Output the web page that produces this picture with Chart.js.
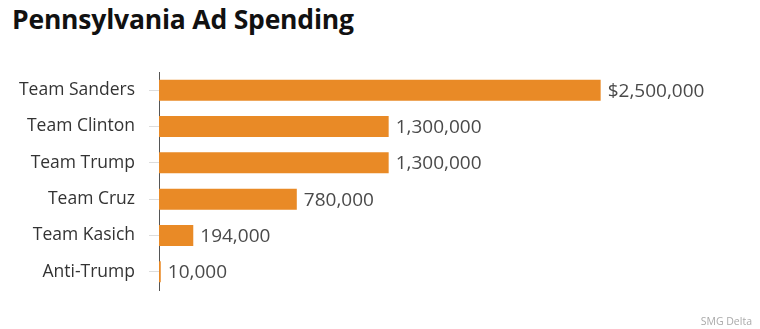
<!DOCTYPE html>
<html>
<head>
<meta charset="utf-8">
<script src="https://cdn.jsdelivr.net/npm/chart.js@4.4.1/dist/chart.umd.min.js"></script>
<style>
  html, body { margin: 0; padding: 0; background: #fff; }
  #wrap { position: relative; width: 760px; height: 329px; overflow: hidden; }
  #title {
    position: absolute; left: 12px; top: 1px; margin: 0;
    font: 700 26.5px "Open Sans", sans-serif; color: #111; letter-spacing: -0.2px;
  }
  #credit {
    position: absolute; right: 8px; bottom: 1px;
    font: 400 10.5px "Open Sans", sans-serif; color: #aaa;
  }
  #spendChart { position: absolute; left: 0; top: 0; }
</style>
</head>
<body>
<div id="wrap">
  <h1 id="title">Pennsylvania Ad Spending</h1>
  <canvas id="spendChart" width="760" height="329"></canvas>
  <div id="credit">SMG Delta</div>
</div>
<script>
const teams = ['Team Sanders', 'Team Clinton', 'Team Trump', 'Team Cruz', 'Team Kasich', 'Anti-Trump'];
const spending = [2500000, 1300000, 1300000, 780000, 194000, 10000];
const valueLabels = ['$2,500,000', '1,300,000', '1,300,000', '780,000', '194,000', '10,000'];

// writes the amount just past the end of each bar
const barValues = {
  id: 'barValues',
  afterDatasetsDraw(chart) {
    const ctx = chart.ctx;
    const meta = chart.getDatasetMeta(0);
    ctx.save();
    ctx.font = '400 19px "Open Sans", sans-serif';
    ctx.fillStyle = '#4a4a4a';
    ctx.textAlign = 'left';
    ctx.textBaseline = 'middle';
    meta.data.forEach((bar, i) => {
      ctx.fillText(valueLabels[i], bar.x + 7, bar.y + 1);
    });
    ctx.restore();
  }
};

const ctx = document.getElementById('spendChart').getContext('2d');
new Chart(ctx, {
  type: 'bar',
  data: {
    labels: teams,
    datasets: [{
      data: spending,
      backgroundColor: '#E98A26',
      borderWidth: 0,
      barPercentage: 0.58,
      categoryPercentage: 1
    }]
  },
  options: {
    indexAxis: 'y',
    responsive: false,
    animation: false,
    layout: { padding: { top: 72, bottom: 39, left: 0, right: 18 } },
    plugins: {
      legend: { display: false },
      tooltip: { enabled: false }
    },
    scales: {
      x: {
        display: false,
        min: 0,
        max: 3300000
      },
      y: {
        afterFit(scale) { scale.width = 159; },
        border: { color: '#555', width: 1 },
        grid: {
          offset: false,
          drawOnChartArea: false,
          tickLength: 10,
          color: '#ddd'
        },
        ticks: {
          padding: 14,
          color: '#333',
          font: { family: '"Open Sans", sans-serif', size: 17.5 }
        }
      }
    }
  },
  plugins: [barValues]
});
</script>
</body>
</html>
